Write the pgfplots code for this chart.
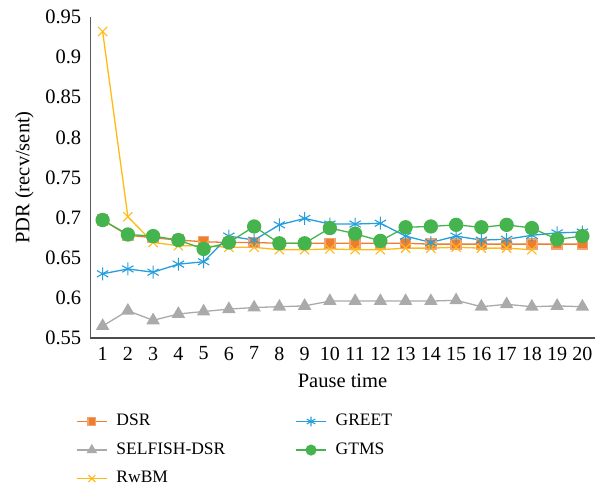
\documentclass[border=0pt]{standalone}
\usepackage{pgfplots}
\pgfplotsset{compat=1.18}
\usepackage{fontspec}
\setmainfont{Liberation Serif}
\definecolor{cDSR}{RGB}{237,125,49}
\definecolor{cSEL}{RGB}{170,170,172}
\definecolor{cRW}{RGB}{255,186,20}
\definecolor{cGR}{RGB}{38,158,220}
\definecolor{cGT}{RGB}{70,180,78}
\begin{document}
\fontsize{20bp}{24bp}\selectfont
\begin{tikzpicture}
\path[use as bounding box] (0,0) rectangle (605bp,-487bp);
\begin{axis}[
  at={(90bp,-338bp)}, anchor=south west,
  scale only axis, width=505bp, height=321bp,
  xmin=0.5, xmax=20.5, ymin=0.55, ymax=0.95,
  axis x line*=bottom, axis y line*=left,
  x axis line style={draw=black!70, line width=1.4bp, -},
  y axis line style={draw=black!65, line width=0.8bp, -},
  xtick={1,...,20}, ytick={0.55,0.6,...,0.96},
  major tick length=0pt,
  /pgf/number format/assume math mode=true,
  yticklabel style={/pgf/number format/fixed, /pgf/number format/precision=2, font=\fontsize{20.5bp}{24bp}\selectfont, xshift=-2bp},
  xticklabel style={font=\fontsize{20bp}{24bp}\selectfont, yshift=-2bp},
  xlabel={Pause time}, ylabel={PDR (recv/sent)},
  ylabel style={yshift=-2bp},
  label style={font=\fontsize{20.5bp}{24bp}\selectfont},
  legend columns=3, transpose legend,
  legend cell align=left,
  legend style={at={(axis description cs:0,0)}, anchor=north west, xshift=-14bp, yshift=-74bp,
    draw=none, fill=none, inner sep=0pt,
    font=\fontsize{17.5bp}{21bp}\selectfont,
    /tikz/every odd column/.append style={column sep=7bp},
    /tikz/every even column/.append style={column sep=68bp},
    /tikz/row sep=10bp},
  legend image code/.code={\draw[mark repeat=2,mark phase=2, every mark/.append style={scale=0.75}] plot coordinates {(0bp,0bp)(15bp,0bp)(30bp,0bp)};},
  every axis plot/.append style={line width=1.3bp},
]
\addplot[cDSR, mark=square*, mark size=5bp, mark options={fill=cDSR, draw=cDSR!70}] coordinates {
(1,0.697)(2,0.678)(3,0.675)(4,0.672)(5,0.670)(6,0.669)(7,0.669)(8,0.668)(9,0.668)(10,0.668)
(11,0.668)(12,0.668)(13,0.668)(14,0.667)(15,0.667)(16,0.667)(17,0.667)(18,0.667)(19,0.667)(20,0.667)};
\addlegendentry{DSR}
\addplot[cSEL, mark=triangle*, mark size=6.5bp, mark options={fill=cSEL}] coordinates {
(1,0.565)(2,0.584)(3,0.572)(4,0.580)(5,0.583)(6,0.586)(7,0.588)(8,0.589)(9,0.590)(10,0.596)
(11,0.596)(12,0.596)(13,0.596)(14,0.596)(15,0.597)(16,0.589)(17,0.592)(18,0.589)(19,0.590)(20,0.589)};
\addlegendentry{SELFISH-DSR}
\addplot[cRW, mark=x, mark size=6.5bp, mark options={line width=1.1bp}] coordinates {
(1,0.932)(2,0.701)(3,0.669)(4,0.665)(5,0.665)(6,0.663)(7,0.663)(8,0.660)(9,0.660)(10,0.661)
(11,0.660)(12,0.660)(13,0.662)(14,0.662)(15,0.663)(16,0.662)(17,0.662)(18,0.660)};
\addlegendentry{RwBM}
\addplot[cGR, mark=asterisk, mark size=6.5bp, mark options={line width=1.1bp}] coordinates {
(1,0.630)(2,0.636)(3,0.632)(4,0.642)(5,0.645)(6,0.677)(7,0.672)(8,0.691)(9,0.699)(10,0.692)
(11,0.692)(12,0.693)(13,0.677)(14,0.669)(15,0.677)(16,0.672)(17,0.673)(18,0.678)(19,0.681)(20,0.682)};
\addlegendentry{GREET}
\addplot[cGT, mark=*, mark size=6.5bp, mark options={fill=cGT}] coordinates {
(1,0.697)(2,0.679)(3,0.677)(4,0.672)(5,0.661)(6,0.669)(7,0.689)(8,0.668)(9,0.668)(10,0.687)
(11,0.680)(12,0.671)(13,0.688)(14,0.689)(15,0.691)(16,0.688)(17,0.691)(18,0.687)(19,0.673)(20,0.677)};
\addlegendentry{GTMS}
\end{axis}
\end{tikzpicture}
\end{document}
